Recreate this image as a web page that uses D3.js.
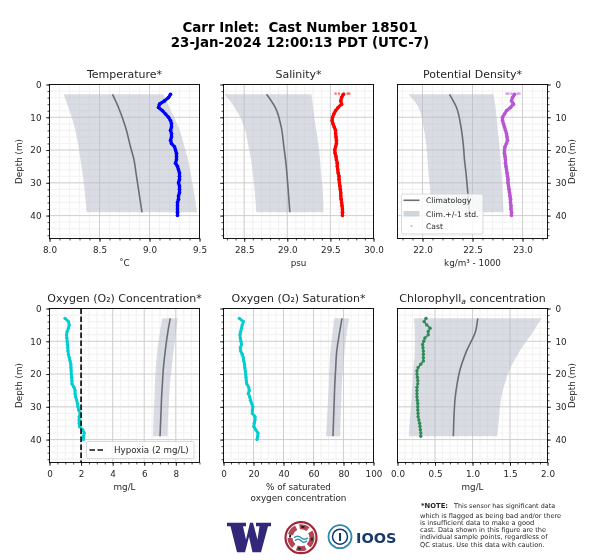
<!DOCTYPE html>
<html><head><meta charset="utf-8">
<script src="https://cdn.jsdelivr.net/npm/d3@7"></script>
<style>
html,body{margin:0;padding:0;background:#fff}
svg{display:block;will-change:transform}
text{font-family:"DejaVu Sans",sans-serif;fill:#262626;white-space:pre}
</style></head><body><svg id="c" width="600" height="560"></svg>
<script>
const suptitle = ["Carr Inlet:  Cast Number 18501","23-Jan-2024 12:00:13 PDT (UTC-7)"];
const titles = ["Temperature*","Salinity*","Potential Density*","Oxygen (O₂) Concentration*","Oxygen (O₂) Saturation*","Chlorophyll"];
const xLabels = ["˚C","psu","kg/m³ - 1000","mg/L","% of saturated","mg/L"];
const xDomains = [[8,9.5],[28.26,30],[21.75,23.25],[0,9.5],[0,100],[0,2]];
const xTickVals = [[8,8.5,9,9.5],[28.5,29,29.5,30],[22,22.5,23],[0,2,4,6,8],[0,20,40,60,80,100],[0,0.5,1,1.5,2]];
const xTickFmt = [".1f",".1f",".1f","d","d",".1f"];
const xMinorStep = [0.1,0.1,0.1,0.5,5,0.1];
const depthTicks = [0,10,20,30,40];
const castColors = ["#0000ff","#ff0000","#ba55d3","#00ced1","#00ced1","#2e8b57"];
const castWidths = [3.2,3.2,3.2,2.8,2.8,1.6];

const climDepth = [3,7,13,19,23,27,32,39];
const tempClim = [8.63,8.69,8.76,8.81,8.845,8.865,8.89,8.925];
const tempLow  = [8.14,8.19,8.25,8.29,8.31,8.33,8.35,8.37];
const tempHigh = [9.14,9.20,9.29,9.35,9.385,9.41,9.44,9.475];
const salClim = [28.76,28.86,28.93,28.96,28.98,28.995,29.01,29.03];
const salLow  = [28.27,28.39,28.50,28.55,28.58,28.60,28.62,28.64];
const salHigh = [29.28,29.30,29.33,29.365,29.38,29.39,29.41,29.42];
const denClim = [22.27,22.34,22.385,22.41,22.42,22.435,22.45,22.47];
const denLow  = [21.86,21.96,22.01,22.04,22.05,22.06,22.075,22.09];
const denHigh = [22.71,22.73,22.75,22.77,22.78,22.79,22.80,22.81];
const oxyClim = [7.65,7.50,7.33,7.20,7.15,7.10,7.06,7.00];
const oxyLow  = [7.15,7.00,6.83,6.72,6.68,6.65,6.60,6.55];
const oxyHigh = [8.12,8.02,7.85,7.72,7.63,7.58,7.52,7.47];
const satClim = [79,77.5,75.5,74.7,74.2,73.9,73.5,73];
const satLow  = [73.8,72.8,71.3,70.5,70.2,69.8,69.2,68.4];
const satHigh = [83.8,82.3,80.7,79.6,78.9,78.6,78.2,77.8];
const chlClim = [1.07,1.04,0.92,0.83,0.795,0.77,0.755,0.745];
const chlLow  = [0.22,0.23,0.23,0.21,0.20,0.19,0.17,0.15];
const chlHigh = [1.92,1.81,1.63,1.49,1.43,1.385,1.36,1.33];

const castDepth = [3,4,5,6,7,8,9,10,11,12,13,14,15,16,17,18,19,20,21,22,23,24,25,26,27,28,29,30,31,32,33,34,35,36,37,38,39,40];
const tempCast = [9.21,9.19,9.15,9.10,9.09,9.13,9.16,9.19,9.21,9.22,9.22,9.21,9.22,9.22,9.21,9.22,9.25,9.26,9.27,9.27,9.27,9.26,9.28,9.29,9.30,9.30,9.30,9.29,9.30,9.30,9.30,9.29,9.29,9.28,9.28,9.28,9.28,9.28];
const salCast = [29.65,29.63,29.62,29.63,29.59,29.56,29.54,29.525,29.52,29.53,29.545,29.56,29.56,29.565,29.57,29.57,29.56,29.55,29.555,29.565,29.57,29.58,29.58,29.585,29.59,29.6,29.6,29.605,29.61,29.615,29.62,29.62,29.625,29.63,29.635,29.64,29.64,29.64];
const denCast = [22.92,22.90,22.89,22.91,22.88,22.84,22.82,22.80,22.80,22.81,22.82,22.83,22.84,22.845,22.85,22.84,22.825,22.82,22.82,22.825,22.83,22.83,22.835,22.84,22.845,22.85,22.855,22.855,22.86,22.865,22.87,22.875,22.88,22.88,22.885,22.885,22.89,22.89];
const oxyCast = [0.98,1.2,1.25,1.2,1.12,1.08,1.1,1.12,1.14,1.16,1.17,1.2,1.25,1.3,1.35,1.36,1.37,1.38,1.4,1.42,1.42,1.55,1.62,1.62,1.66,1.72,1.77,1.8,1.85,1.95,1.88,1.88,1.88,1.9,2.1,2.2,2.15,2.15];
const satCast = [10.5,13.3,12.5,12,11.5,11,11.2,11.6,12,11.2,11.5,12.5,13.2,13.5,14,14.2,14.5,14.8,15,15.2,15.5,16.8,17.2,16.5,17.5,18,18.8,19.6,19.2,19.2,21,21,20.5,20.2,21.5,23,22.8,22.3];
const chlCast = [0.38,0.355,0.39,0.435,0.41,0.41,0.365,0.35,0.335,0.34,0.345,0.345,0.345,0.345,0.31,0.275,0.26,0.26,0.265,0.27,0.27,0.26,0.26,0.26,0.26,0.265,0.27,0.27,0.27,0.275,0.275,0.285,0.295,0.30,0.305,0.31,0.31];
const denSurface = [22.84,22.86,22.89,22.95,22.97];
const salSurface = [29.56,29.60,29.66,29.70,29.72];

const noteLines = ["which is flagged as being bad and/or there","is insufficient data to make a good","cast. Data shown in this figure are the","individual sample points, regardless of","QC status. Use this data with caution."];

const clim=[tempClim,salClim,denClim,oxyClim,satClim,chlClim], lows=[tempLow,salLow,denLow,oxyLow,satLow,chlLow], highs=[tempHigh,salHigh,denHigh,oxyHigh,satHigh,chlHigh], casts=[tempCast,salCast,denCast,oxyCast,satCast,chlCast];
const surfaces=[null,salSurface,denSurface,null,null,null];
const lefts=[49.5,223.5,397.5], tops=[84.5,308.5], W=150, H=154;
const svg=d3.select("#c");
svg.append("rect").attr("width",600).attr("height",560).attr("fill","#fff");
suptitle.forEach((t,i)=>svg.append("text").attr("x",300).attr("y",[32,47][i]).attr("text-anchor","middle").attr("font-size",13.4).attr("font-weight","bold").style("fill","#000").text(t));

titles.forEach((title,i)=>{
  const col=i%3,row=Math.floor(i/3);
  const g=svg.append("g").attr("transform",`translate(${lefts[col]},${tops[row]})`);
  const x=d3.scaleLinear().domain(xDomains[i]).range([0,W]);
  const y=d3.scaleLinear().domain([0,47]).range([0,H]);
  const [a,b]=xDomains[i];
  const xMinor=d3.range(Math.ceil(a/xMinorStep[i]-1e-6),Math.floor(b/xMinorStep[i]+1e-6)+1).map(k=>k*xMinorStep[i]);
  const yMinor=d3.range(0,47,2);
  const grid=g.append("g");
  xMinor.forEach(v=>grid.append("line").attr("x1",x(v)).attr("x2",x(v)).attr("y1",0).attr("y2",H).attr("stroke","#f3f3f3").attr("stroke-width",1.2));
  yMinor.forEach(v=>grid.append("line").attr("y1",y(v)).attr("y2",y(v)).attr("x1",0).attr("x2",W).attr("stroke","#f3f3f3").attr("stroke-width",1.2));
  xTickVals[i].forEach(v=>grid.append("line").attr("x1",x(v)).attr("x2",x(v)).attr("y1",0).attr("y2",H).attr("stroke","#c8c8c8").attr("stroke-width",0.8));
  depthTicks.forEach(v=>grid.append("line").attr("y1",y(v)).attr("y2",y(v)).attr("x1",0).attr("x2",W).attr("stroke","#c8c8c8").attr("stroke-width",0.8));
  const cd=climDepth.map((d,k)=>({d,c:clim[i][k],l:lows[i][k],h:highs[i][k]}));
  g.append("path").datum(cd).attr("fill","#b3bac5").attr("fill-opacity",0.5)
    .attr("d",d3.area().curve(d3.curveMonotoneY).y(p=>y(p.d)).x0(p=>x(p.l)).x1(p=>x(p.h)));
  g.append("path").datum(cd).attr("fill","none").attr("stroke","#6b6f75").attr("stroke-width",1.6)
    .attr("d",d3.line().curve(d3.curveMonotoneY).x(p=>x(p.c)).y(p=>y(p.d)));
  const cst=casts[i].map((v,k)=>({v,d:castDepth[k]}));
  g.append("path").datum(cst).attr("fill","none").attr("stroke",castColors[i]).attr("stroke-width",castWidths[i]).attr("stroke-linejoin","round")
    .attr("d",d3.line().x(p=>x(p.v)).y(p=>y(p.d)));
  g.selectAll(null).data(cst).join("circle").attr("cx",p=>x(p.v)).attr("cy",p=>y(p.d)).attr("r",i===5?1.7:castWidths[i]/2+0.2).attr("fill",castColors[i]);
  if(surfaces[i]) g.selectAll(null).data(surfaces[i]).join("circle").attr("cx",v=>x(v)).attr("cy",y(2.8)).attr("r",1.3).attr("fill",castColors[i]).attr("fill-opacity",0.5);
  if(i===3) g.append("line").attr("x1",x(2)).attr("x2",x(2)).attr("y1",0).attr("y2",H).attr("stroke","#111").attr("stroke-width",1.7).attr("stroke-dasharray","5.5,2.5");
  const ax=d3.axisBottom(x).tickValues(xTickVals[i]).tickFormat(d3.format(xTickFmt[i])).tickSize(3.5).tickPadding(4.3);
  const gx=g.append("g").attr("transform",`translate(0,${H})`).call(ax);
  const gxm=g.append("g").attr("transform",`translate(0,${H})`).call(d3.axisBottom(x).tickValues(xMinor).tickFormat("").tickSize(2));
  const orient=col===2?d3.axisRight:d3.axisLeft;
  const gy=g.append("g").attr("transform",col===2?`translate(${W},0)`:null).call(orient(y).tickValues(depthTicks).tickFormat(col===1?"":d3.format("d")).tickSize(3.5).tickPadding(4.5));
  const gym=g.append("g").attr("transform",col===2?`translate(${W},0)`:null).call(orient(y).tickValues(yMinor).tickFormat("").tickSize(2));
  [gx,gxm,gy,gym].forEach(s=>{s.selectAll(".domain").remove();s.selectAll("line").attr("stroke","#000").attr("stroke-width",0.7);s.selectAll("text").attr("font-size",8.8).style("font-family",'"DejaVu Sans"').style("fill","#262626");});
  g.append("rect").attr("width",W).attr("height",H).attr("fill","none").attr("stroke","#000").attr("stroke-width",0.9);
  const tt=g.append("text").attr("x",W/2).attr("y",-7).attr("text-anchor","middle").attr("font-size",11).text(title);
  if(i===5){tt.append("tspan").attr("font-size",7.7).attr("font-style","italic").attr("dy",2).text("a");tt.append("tspan").attr("dy",-2).text(" concentration");}
  g.append("text").attr("x",W/2).attr("y",H+27).attr("text-anchor","middle").attr("font-size",8.8).text(xLabels[i]);
  if(i===4) g.append("text").attr("x",W/2).attr("y",H+38).attr("text-anchor","middle").attr("font-size",8.8).text("oxygen concentration");
  if(col!==1) g.append("text").attr("transform",`translate(${col===0?-28:W+27.5},${H/2}) rotate(-90)`).attr("text-anchor","middle").attr("font-size",8.8).text("Depth (m)");
  if(i===2){
    const l=g.append("g").attr("transform","translate(4,109.5)");
    l.append("rect").attr("width",81.5).attr("height",40).attr("rx",1.5).attr("fill","#fff").attr("fill-opacity",0.8).attr("stroke","#ccc").attr("stroke-width",0.7);
    l.append("line").attr("x1",2).attr("x2",18).attr("y1",6.3).attr("y2",6.3).attr("stroke","#6b6f75").attr("stroke-width",1.6);
    l.append("rect").attr("x",2).attr("y",17).attr("width",16).attr("height",5.5).attr("fill","#b3bac5").attr("fill-opacity",0.6);
    l.append("circle").attr("cx",10).attr("cy",32).attr("r",1).attr("fill",castColors[2]).attr("fill-opacity",0.5);
    ["Climatology","Clim.+/-1 std.","Cast"].forEach((t,k)=>l.append("text").attr("x",24.5).attr("y",[9,22.7,34.5][k]).attr("font-size",7.6).text(t));
  }
  if(i===3){
    const l=g.append("g").attr("transform","translate(37,133)");
    l.append("rect").attr("width",107.5).attr("height",17).attr("rx",1.5).attr("fill","#fff").attr("fill-opacity",0.8).attr("stroke","#ccc").attr("stroke-width",0.7);
    l.append("line").attr("x1",3).attr("x2",19).attr("y1",8.5).attr("y2",8.5).attr("stroke","#111").attr("stroke-width",1.5).attr("stroke-dasharray","5.5,2.5");
    l.append("text").attr("x",27.5).attr("y",11.5).attr("font-size",8.7).text("Hypoxia (2 mg/L)");
  }
});

const logos=svg.append("g");
logos.append("path").attr("transform","translate(227,522.7)").attr("fill","#33277a")
  .attr("d","M0,0H19V3.5H16L19,17L23,0H26L30.5,17L32.5,3.5H29V0H44V3.5H41L34,29.5H25.5L22,14L18,29.5H10L3.5,3.5H0Z");
const c1=logos.append("g").attr("transform","translate(301,537.7)");
c1.append("circle").attr("r",15.5).attr("fill","#fff").attr("stroke","#a32638").attr("stroke-width",2.2);
c1.append("circle").attr("r",11).attr("fill","none").attr("stroke","#a32638").attr("stroke-width",5).attr("stroke-dasharray","9,3.5").attr("opacity",0.85);
c1.append("circle").attr("r",11).attr("fill","none").attr("stroke","#222").attr("stroke-width",2).attr("stroke-dasharray","3,14.3");
c1.append("circle").attr("r",7.5).attr("fill","#fff");
c1.append("path").attr("d","M-7,0 Q-3.5,-3 0,0 T7,0 M-6,3 Q-3,0 0,3 T6,3").attr("fill","none").attr("stroke","#2f8fb5").attr("stroke-width",1.5);
const c2=logos.append("g").attr("transform","translate(340,536.7)");
c2.append("circle").attr("r",11.5).attr("fill","none").attr("stroke","#2a8ca8").attr("stroke-width",1.8);
c2.append("circle").attr("r",7.5).attr("fill","none").attr("stroke","#17386b").attr("stroke-width",1.5);
c2.append("text").attr("y",4).attr("text-anchor","middle").attr("font-size",11).attr("font-weight","bold").style("fill","#17386b").text("I");
logos.append("text").attr("x",356).attr("y",543).attr("font-size",14.5).attr("font-weight","bold").style("fill","#17386b").text("IOOS");

const note=svg.append("g");
note.append("text").attr("x",421).attr("y",508).attr("font-size",6.8).attr("font-weight","bold").text("*NOTE:");
note.append("text").attr("x",454).attr("y",508).attr("font-size",6.4).text("This sensor has significant data");
noteLines.forEach((t,k)=>note.append("text").attr("x",420).attr("y",[518.3,525,532,539,547][k]).attr("font-size",6.6).text(t));
</script></body></html>
